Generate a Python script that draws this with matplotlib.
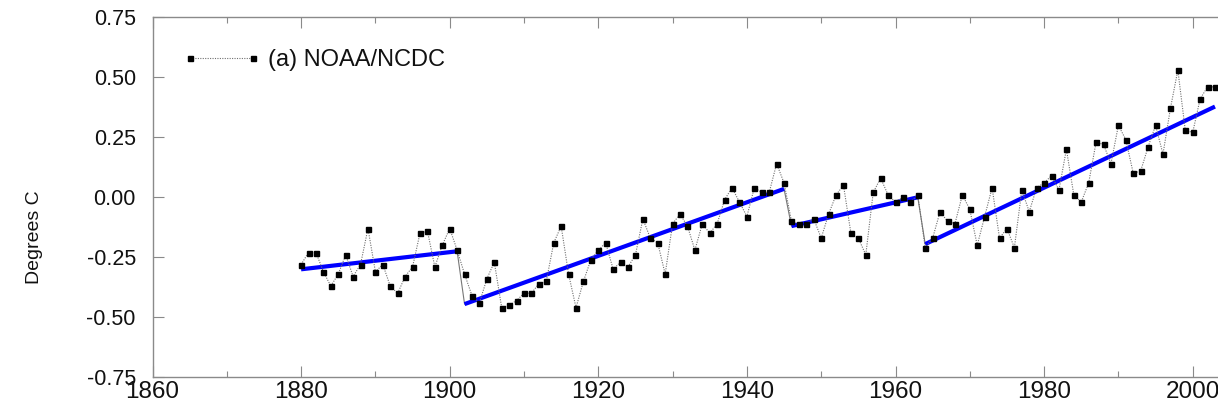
import numpy as np
import matplotlib
matplotlib.use("Agg")
import matplotlib.pyplot as plt
from matplotlib.ticker import MultipleLocator, FormatStrFormatter

# Annual global temperature anomalies (degrees C), NOAA/NCDC
years = np.arange(1880, 2004)
anomaly = [
    -0.28, -0.23, -0.23, -0.31, -0.37, -0.32, -0.24, -0.33, -0.28, -0.13,   # 1880s
    -0.31, -0.28, -0.37, -0.40, -0.33, -0.29, -0.15, -0.14, -0.29, -0.20,   # 1890s
    -0.13, -0.22, -0.32, -0.41, -0.44, -0.34, -0.27, -0.46, -0.45, -0.43,   # 1900s
    -0.40, -0.40, -0.36, -0.35, -0.19, -0.12, -0.32, -0.46, -0.35, -0.26,   # 1910s
    -0.22, -0.19, -0.30, -0.27, -0.29, -0.24, -0.09, -0.17, -0.19, -0.32,   # 1920s
    -0.11, -0.07, -0.12, -0.22, -0.11, -0.15, -0.11, -0.01, 0.04, -0.02,    # 1930s
    -0.08, 0.04, 0.02, 0.02, 0.14, 0.06, -0.10, -0.11, -0.11, -0.09,        # 1940s
    -0.17, -0.07, 0.01, 0.05, -0.15, -0.17, -0.24, 0.02, 0.08, 0.01,        # 1950s
    -0.02, 0.00, -0.02, 0.01, -0.21, -0.17, -0.06, -0.10, -0.11, 0.01,      # 1960s
    -0.05, -0.20, -0.08, 0.04, -0.17, -0.13, -0.21, 0.03, -0.06, 0.04,      # 1970s
    0.06, 0.09, 0.03, 0.20, 0.01, -0.02, 0.06, 0.23, 0.22, 0.14,            # 1980s
    0.30, 0.24, 0.10, 0.11, 0.21, 0.30, 0.18, 0.37, 0.53, 0.28,             # 1990s
    0.27, 0.41, 0.46, 0.46,                                                 # 2000s
]

# Piecewise linear trends between breakpoints
seg_start_year = [1880, 1902, 1946, 1964]
seg_end_year = [1901, 1945, 1963, 2003]
seg_start_val = [-0.30, -0.445, -0.12, -0.195]
seg_end_val = [-0.225, 0.035, 0.00, 0.378]

series_label = "(a) NOAA/NCDC"
y_label = "Degrees C"

plt.rcParams["font.family"] = ["Liberation Sans", "DejaVu Sans"]

W, H, DPI = 1218, 411, 100
fig = plt.figure(figsize=(W / DPI, H / DPI), dpi=DPI)
# axes extends past the right edge of the canvas, so the plot is cut there
ax = fig.add_axes([152.5 / W, (H - 377.3) / H, 1188.8 / W, 360.0 / H])

spine_col = "#8a8a8a"
for side in ("left", "top", "bottom"):
    ax.spines[side].set_color(spine_col)
    ax.spines[side].set_linewidth(1.0)
ax.spines["right"].set_visible(False)

# data series: dotted connector with square markers
ax.plot(years, anomaly, linestyle=(0, (1, 1.2)), color="#707070", linewidth=0.8,
        marker="s", markersize=3.6, markerfacecolor="black",
        markeredgecolor="black", label=series_label, zorder=3)

# trend segments
for i in range(len(seg_start_year)):
    ax.plot([seg_start_year[i], seg_end_year[i]],
            [seg_start_val[i], seg_end_val[i]],
            color="#0000ff", linewidth=3.0, solid_capstyle="butt", zorder=2)
    if i + 1 < len(seg_start_year):
        ax.plot([seg_end_year[i], seg_start_year[i + 1]],
                [seg_end_val[i], seg_start_val[i + 1]],
                color="#777777", linewidth=0.8, zorder=1)

ax.set_xlim(1860, 2020)
ax.set_ylim(-0.75, 0.75)
ax.xaxis.set_major_locator(MultipleLocator(20))
ax.xaxis.set_minor_locator(MultipleLocator(10))
ax.yaxis.set_major_locator(MultipleLocator(0.25))
ax.yaxis.set_major_formatter(FormatStrFormatter("%.2f"))

ax.tick_params(axis="x", which="major", direction="in", length=8, width=0.8,
               color=spine_col, top=True, labelsize=17.5, pad=3,
               labelcolor="#111111")
ax.tick_params(axis="x", which="minor", direction="in", length=4, width=0.8,
               color=spine_col, top=True)
ax.tick_params(axis="y", which="major", direction="in", length=8, width=0.8,
               color=spine_col, labelsize=15.5, pad=12, labelcolor="#111111")

ax.set_ylabel(y_label, fontsize=14, color="#111111")
ax.yaxis.set_label_coords(-0.092, 0.39)

leg = ax.legend(loc="center left", bbox_to_anchor=(0.0257, 0.881),
                frameon=False, numpoints=2, handlelength=3.27,
                handletextpad=0.33, borderpad=0, borderaxespad=0,
                fontsize=17)
for t in leg.get_texts():
    t.set_color("#111111")

fig.savefig("out.png", dpi=DPI)
